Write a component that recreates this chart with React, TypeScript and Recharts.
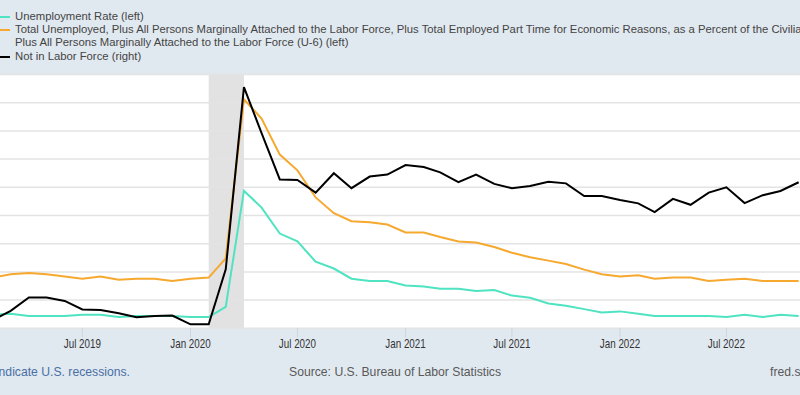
import React from "react";
import { LineChart, Line, XAxis, YAxis, CartesianGrid, ReferenceArea, ReferenceLine } from "recharts";

const months = [
  "2019-02", "2019-03", "2019-04", "2019-05", "2019-06", "2019-07", "2019-08", "2019-09", "2019-10", "2019-11", "2019-12",
  "2020-01", "2020-02", "2020-03", "2020-04", "2020-05", "2020-06", "2020-07", "2020-08", "2020-09", "2020-10", "2020-11", "2020-12",
  "2021-01", "2021-02", "2021-03", "2021-04", "2021-05", "2021-06", "2021-07", "2021-08", "2021-09", "2021-10", "2021-11", "2021-12",
  "2022-01", "2022-02", "2022-03", "2022-04", "2022-05", "2022-06", "2022-07", "2022-08", "2022-09", "2022-10", "2022-11",
];

const unemploymentRate = [
  3.7, 3.8, 3.6, 3.6, 3.6, 3.7, 3.7, 3.5, 3.6, 3.6, 3.6,
  3.5, 3.5, 4.4, 14.7, 13.2, 10.9, 10.2, 8.4, 7.8, 6.9, 6.7, 6.7,
  6.3, 6.2, 6.0, 6.0, 5.8, 5.9, 5.4, 5.2, 4.7, 4.5, 4.2, 3.9,
  4.0, 3.8, 3.6, 3.6, 3.6, 3.6, 3.5, 3.7, 3.5, 3.7, 3.6,
];

const u6Rate = [
  7.0, 7.3, 7.4, 7.3, 7.1, 6.9, 7.1, 6.8, 6.9, 6.9, 6.7,
  6.9, 7.0, 8.7, 22.8, 21.1, 17.9, 16.5, 14.1, 12.7, 12.0, 11.9, 11.7,
  11.0, 11.0, 10.6, 10.2, 10.1, 9.7, 9.2, 8.8, 8.5, 8.2, 7.7, 7.3,
  7.1, 7.2, 6.9, 7.0, 7.0, 6.7, 6.8, 6.9, 6.7, 6.7, 6.7,
];

const notInLaborForce = [
  95110, 95420, 95890, 95890, 95770, 95470, 95450, 95330, 95190, 95240, 95250,
  94940, 94940, 96890, 103350, 101720, 100080, 100060, 99610, 100300, 99770, 100180, 100250,
  100590, 100520, 100330, 99980, 100250, 99920, 99770, 99850, 100000, 99940, 99490, 99490,
  99350, 99230, 98920, 99390, 99180, 99610, 99800, 99240, 99520, 99670, 99980,
];

const xTickMonths = ["2019-07", "2020-01", "2020-07", "2021-01", "2021-07", "2022-01", "2022-07"];
const xDomainMonths = ["2019-01", "2023-01"];
const recessionMonths = ["2020-02", "2020-04"];
const leftTicks = [2.5, 5, 7.5, 10, 12.5, 15, 17.5, 20, 22.5, 25];
const rightDomain = [94800, 103800];

const MONTH_NAMES = ["Jan", "Feb", "Mar", "Apr", "May", "Jun", "Jul", "Aug", "Sep", "Oct", "Nov", "Dec"];
const toT = (m: string) => {
  const [y, mo] = m.split("-").map(Number);
  return Date.UTC(y, mo - 1, 1);
};
const fmt = (t: number) => {
  const d = new Date(t);
  return `${MONTH_NAMES[d.getUTCMonth()]} ${d.getUTCFullYear()}`;
};

const data = months.map((m, i) => ({
  t: toT(m),
  unrate: unemploymentRate[i],
  u6: u6Rate[i],
  nilf: notInLaborForce[i],
}));

const COLORS = { unrate: "#4fe3c1", u6: "#f6a82f", nilf: "#000000" };

const legendItems = [
  { color: COLORS.unrate, lines: ["Unemployment Rate (left)"] },
  {
    color: COLORS.u6,
    lines: [
      "Total Unemployed, Plus All Persons Marginally Attached to the Labor Force, Plus Total Employed Part Time for Economic Reasons, as a Percent of the Civilian Labor Force",
      "Plus All Persons Marginally Attached to the Labor Force (U-6) (left)",
    ],
  },
  { color: COLORS.nilf, lines: ["Not in Labor Force (right)"] },
];

const NarrowTick = (props: any) => {
  const { x, y, payload } = props;
  return (
    <g transform={`translate(${x},${y})`}>
      <text
        x={0}
        y={0}
        dy="0.71em"
        textAnchor="middle"
        fill="#333"
        fontSize={12}
        fontFamily="'Liberation Sans', Arial, sans-serif"
        transform="scale(0.82,1)"
      >
        {fmt(payload.value)}
      </text>
    </g>
  );
};

export default function App() {
  let row = 0;
  return (
    <div
      style={{
        position: "absolute",
        left: 0,
        top: 0,
        width: 800,
        height: 395,
        overflow: "hidden",
        background: "#e1e9f0",
        fontFamily: "'Liberation Sans', Arial, sans-serif",
      }}
    >
      {legendItems.map((item, k) => {
        const startRow = row;
        row += item.lines.length;
        return (
          <div key={k}>
            <div
              style={{
                position: "absolute",
                left: 0,
                top: 16 + startRow * 13.2,
                width: 10,
                height: 2,
                background: item.color,
              }}
            />
            {item.lines.map((ln, j) => (
              <div
                key={j}
                style={{
                  position: "absolute",
                  left: 15,
                  top: 10 + (startRow + j) * 13.2,
                  fontSize: 11.3,
                  lineHeight: "13px",
                  color: "#444",
                  whiteSpace: "nowrap",
                }}
              >
                {ln}
              </div>
            ))}
          </div>
        );
      })}

      <div style={{ position: "absolute", left: -23.65, top: 0 }}>
        <LineChart
          width={858.5}
          height={395}
          data={data}
          margin={{ top: 74.5, right: 0, left: 0, bottom: 36.7 }}
        >
          <CartesianGrid horizontal={false} vertical={false} fill="#ffffff" />
          <XAxis
            dataKey="t"
            type="number"
            scale="time"
            domain={xDomainMonths.map(toT)}
            ticks={xTickMonths.map(toT)}
            tickFormatter={fmt}
            height={30}
            axisLine={false}
            tickLine={{ stroke: "#c9d6e3" }}
            tickSize={9}
            tickMargin={2}
            tick={<NarrowTick />}
            allowDataOverflow
          />
          <YAxis
            yAxisId="left"
            orientation="left"
            domain={[leftTicks[0], leftTicks[leftTicks.length - 1]]}
            ticks={leftTicks}
            width={0}
            tick={false}
            axisLine={false}
            tickLine={false}
            allowDataOverflow
          />
          <YAxis
            yAxisId="right"
            orientation="right"
            domain={rightDomain}
            width={0}
            tick={false}
            axisLine={false}
            tickLine={false}
            allowDataOverflow
          />
          {leftTicks.map((v) => (
            <ReferenceLine key={v} yAxisId="left" y={v} stroke="#e3e3e3" strokeWidth={1.5} />
          ))}
          <ReferenceArea
            yAxisId="left"
            x1={toT(recessionMonths[0])}
            x2={toT(recessionMonths[1])}
            y1={leftTicks[0]}
            y2={leftTicks[leftTicks.length - 1]}
            fill="#e2e2e2"
            fillOpacity={1}
            stroke="none"
          />
          <Line yAxisId="left" dataKey="unrate" stroke={COLORS.unrate} strokeWidth={2} dot={false} isAnimationActive={false} />
          <Line yAxisId="left" dataKey="u6" stroke={COLORS.u6} strokeWidth={2} dot={false} isAnimationActive={false} />
          <Line yAxisId="right" dataKey="nilf" stroke={COLORS.nilf} strokeWidth={2} dot={false} isAnimationActive={false} />
        </LineChart>
      </div>

      <div
        style={{
          position: "absolute",
          right: 800 - 130,
          top: 365,
          fontSize: 12.2,
          color: "#4a6fa5",
          whiteSpace: "nowrap",
        }}
      >
        Shaded areas indicate U.S. recessions.
      </div>
      <div
        style={{
          position: "absolute",
          left: 289,
          top: 365,
          fontSize: 12.2,
          color: "#595959",
          whiteSpace: "nowrap",
        }}
      >
        Source: U.S. Bureau of Labor Statistics
      </div>
      <div
        style={{
          position: "absolute",
          left: 770,
          top: 365,
          fontSize: 12.2,
          color: "#595959",
          whiteSpace: "nowrap",
        }}
      >
        fred.stlouisfed.org
      </div>
    </div>
  );
}
